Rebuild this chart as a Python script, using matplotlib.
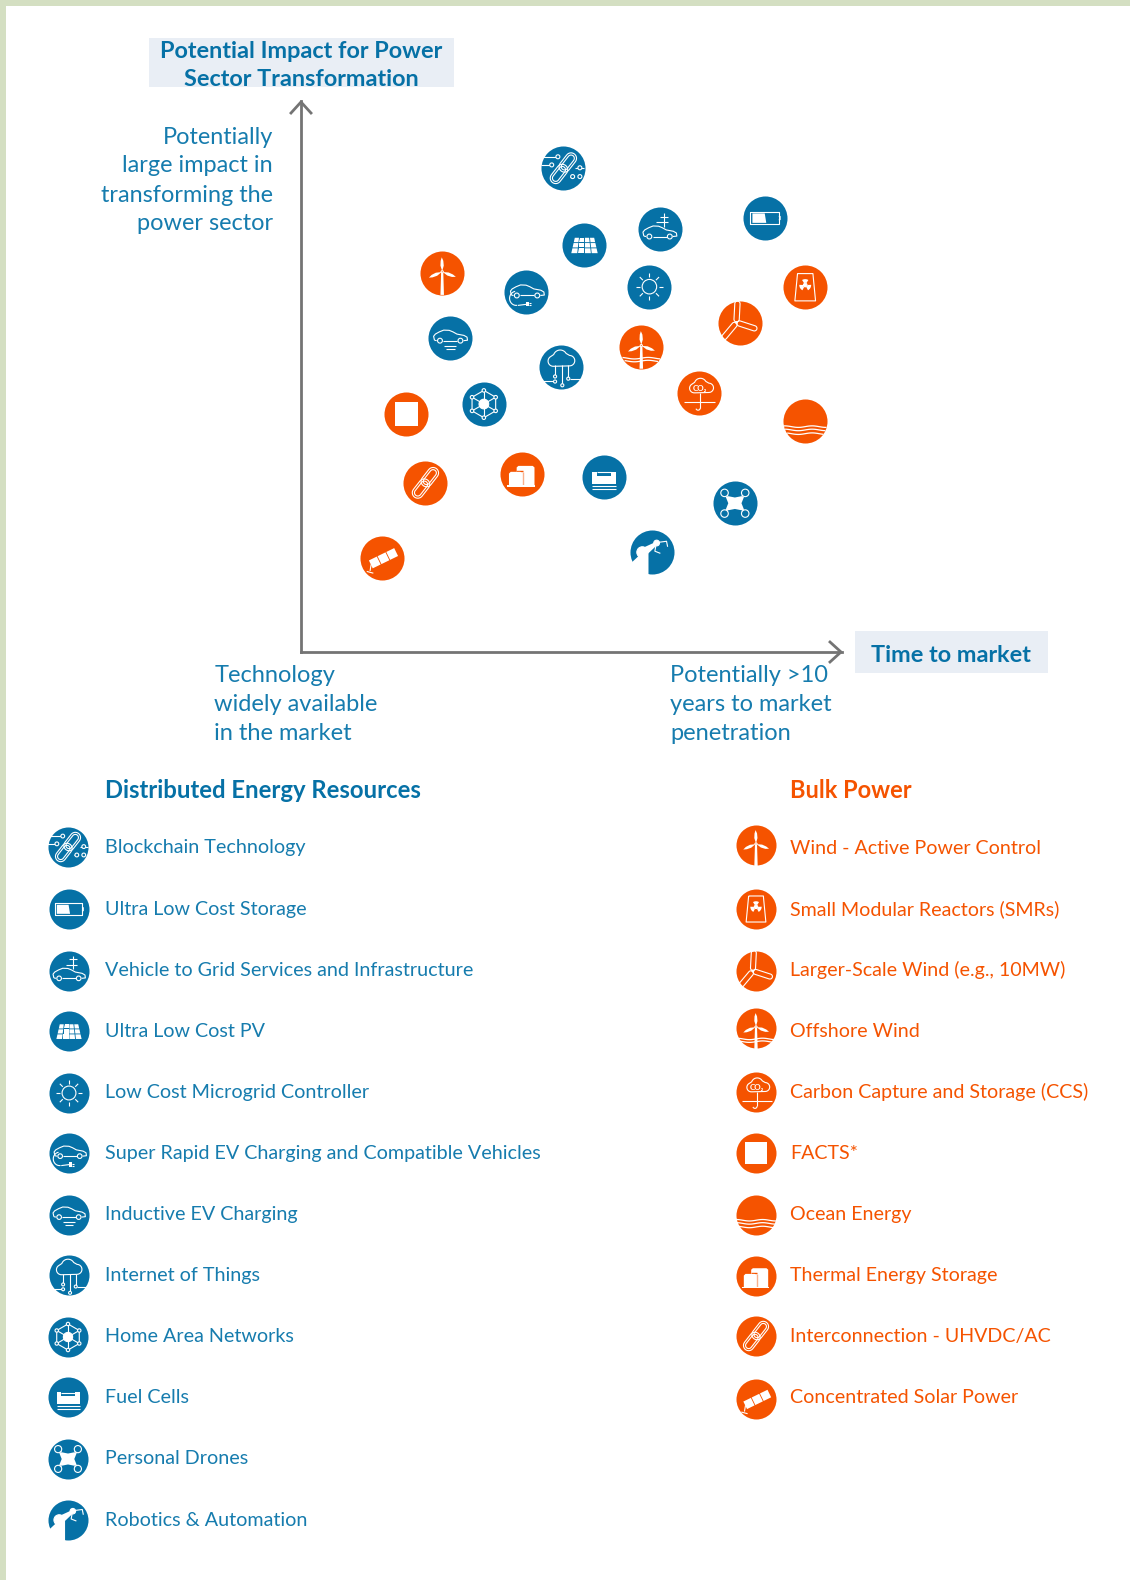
import numpy as np
import matplotlib
matplotlib.use('Agg')
import matplotlib.pyplot as plt
from matplotlib.patches import Rectangle, Polygon, Circle
from matplotlib.transforms import Affine2D

plt.rcParams['font.family'] = ['Lato', 'DejaVu Sans']

BLUE = '#0671A6'
ORANGE = '#F55300'
TEXT_BLUE = '#167CAE'
GREY = '#747474'
W, H = 1130, 1580

der_names = ['Blockchain Technology', 'Ultra Low Cost Storage', 'Vehicle to Grid Services and Infrastructure',
             'Ultra Low Cost PV', 'Low Cost Microgrid Controller', 'Super Rapid EV Charging and Compatible Vehicles',
             'Inductive EV Charging', 'Internet of Things', 'Home Area Networks', 'Fuel Cells',
             'Personal Drones', 'Robotics & Automation']
der_icons = ['blockchain', 'battery', 'v2g', 'pv', 'sun', 'ev', 'inductive', 'iot', 'han', 'fuel', 'drone', 'robot']
der_time = [48.5, 85.8, 66.3, 52.4, 64.4, 41.6, 27.6, 48.1, 33.8, 56.0, 80.2, 64.8]
der_impact = [87.8, 78.8, 76.8, 73.9, 66.3, 65.3, 56.9, 51.8, 45.0, 31.8, 27.0, 18.1]

bulk_names = ['Wind - Active Power Control', 'Small Modular Reactors (SMRs)', 'Larger-Scale Wind (e.g., 10MW)',
              'Offshore Wind', 'Carbon Capture and Storage (CCS)', 'FACTS*', 'Ocean Energy',
              'Thermal Energy Storage', 'Interconnection - UHVDC/AC', 'Concentrated Solar Power']
bulk_icons = ['wind', 'smr', 'blades', 'offshore', 'ccs', 'facts', 'ocean', 'thermal', 'chain', 'csp']
bulk_time = [26.1, 93.2, 81.1, 62.9, 73.6, 19.5, 93.2, 40.8, 23.0, 15.0]
bulk_impact = [68.8, 66.2, 59.8, 55.4, 47.0, 43.2, 41.9, 32.3, 30.7, 17.1]

y_labels = ['Potentially', 'large impact in', 'transforming the', 'power sector']
x_left_labels = ['Technology', 'widely available', 'in the market']
x_right_labels = ['Potentially >10', 'years to market', 'penetration']

fig = plt.figure(figsize=(W / 100, H / 100), dpi=100, facecolor='white')

chart = fig.add_axes([301 / W, (H - 652) / H, 541 / W, 551 / H])
chart.set_zorder(1)
chart.set_xlim(0, 100)
chart.set_ylim(0, 100)
chart.patch.set_alpha(0)
chart.set_xticks([])
chart.set_yticks([])
chart.spines[['top', 'right']].set_visible(False)
chart.spines[['left', 'bottom']].set_color(GREY)
chart.spines[['left', 'bottom']].set_linewidth(2)

# page layer in pixels, y downwards
page = fig.add_axes([0, 0, 1, 1])
page.set_zorder(2)
page.set_xlim(0, W)
page.set_ylim(H, 0)
page.axis('off')


class Icon:
    # everything in unit circle coordinates, y up
    def __init__(self, px, py, r, color):
        self.tr = Affine2D().scale(r).translate(px, H - py)
        self.color = color
        self.lw = 0.8

    def line(self, pts, lw=None, color='white', close=False):
        pts = np.array(pts, dtype=float)
        if close:
            pts = np.vstack([pts, pts[0]])
        page.plot(pts[:, 0], pts[:, 1], color=color, lw=lw or self.lw, transform=self.tr,
                  clip_on=False, solid_capstyle='butt', zorder=5)

    def fill(self, pts, color='white', z=5):
        page.add_patch(Polygon(pts, closed=True, fc=color, ec='none', transform=self.tr, zorder=z))

    def dot(self, x, y, r, filled=False, lw=None):
        fc = 'white' if filled else self.color
        page.add_patch(Circle((x, y), r, fc=fc, ec='white', lw=lw or self.lw, transform=self.tr, zorder=6))

    def rect(self, x0, y0, x1, y1, color='white'):
        self.fill([(x0, y0), (x1, y0), (x1, y1), (x0, y1)], color)


def capsule(cx, cy, length, width, angle):
    t = np.linspace(-np.pi / 2, np.pi / 2, 14)
    r = width / 2
    a = np.c_[length / 2 - r + r * np.cos(t), r * np.sin(t)]
    b = np.c_[-length / 2 + r - r * np.cos(t), -r * np.sin(t)]
    p = np.vstack([a, b, a[:1]])
    c, s = np.cos(np.radians(angle)), np.sin(np.radians(angle))
    return np.c_[cx + p[:, 0] * c - p[:, 1] * s, cy + p[:, 0] * s + p[:, 1] * c]


def chain(ic, scale=1.0):
    for dx, dy in [(0.2, 0.26), (-0.2, -0.26)]:
        ic.line(capsule(dx * scale, dy * scale, 0.98 * scale, 0.5 * scale, 52))
        ic.line(capsule(dx * scale, dy * scale, 0.78 * scale, 0.3 * scale, 52))


def car(ic, dx=0.0, dy=0.0, s=1.0):
    body = [(-.72, -.18), (-.76, .0), (-.68, .1), (-.5, .2), (-.3, .28), (-.05, .27), (.12, .2), (.3, .1),
            (.62, .04), (.76, -.04), (.78, -.18), (.6, -.2)]
    ic.line([(dx + x * s, dy + y * s) for x, y in body])
    ic.line([(dx + .32 * s, dy - .2 * s), (dx - .32 * s, dy - .2 * s)])
    ic.line([(dx - .72 * s, dy - .18 * s), (dx - .62 * s, dy - .2 * s)])
    ic.dot(dx - .47 * s, dy - .2 * s, .11 * s)
    ic.dot(dx + .46 * s, dy - .2 * s, .11 * s)


def cloud(ic, dx=0.0, dy=0.0, s=1.0):
    t = np.radians
    pts = []
    for cx, cy, r, a0, a1 in [(-.38, .0, .25, 270, 130), (-.05, .2, .33, 160, 30), (.4, .02, .25, 90, -90)]:
        for a in np.linspace(a0, a1, 12):
            pts.append((dx + (cx + r * np.cos(t(a))) * s, dy + (cy + r * np.sin(t(a))) * s))
    pts.append(pts[0])
    ic.line(pts)


def turbine(ic, dx=0.0, dy=0.0, bottom=-1.0):
    blade = np.array([(0, .03), (-.08, .28), (-.07, .5), (-.02, .66), (.05, .5), (.07, .28)])
    for ang in [0, 112, 248]:
        c, s = np.cos(np.radians(ang)), np.sin(np.radians(ang))
        ic.fill([(dx + x * c - y * s, dy + .05 + x * s + y * c) for x, y in blade])
    ic.fill([(dx - .05, dy), (dx + .05, dy), (dx + .08, bottom), (dx - .08, bottom)])
    ic.dot(dx, dy + .05, .05, filled=False)


def waves(ic, ys, half=0.9):
    x = np.linspace(-half, half, 30)
    for y in ys:
        xx = x * np.sqrt(max(1 - y ** 2, 0)) / half
        ic.line(np.c_[xx, y + .035 * np.sin(xx * 5)], lw=0.9)


def draw_icon(name, px, py, r, color):
    ic = Icon(px, py, r, color)
    if name == 'blockchain':
        chain(ic)
        for a, b, c, d in [(-1, .52, -.28, .52), (-1, .15, -.55, .15), (.55, .02, .95, .02), (.3, -.38, .42, -.38)]:
            ic.line([(a, b), (c, d)])
        for x, y in [(-.25, .52), (-.53, .15), (.75, .02), (.42, -.38), (.75, -.38)]:
            ic.dot(x, y, .09)
    elif name == 'battery':
        ic.line([(-.68, .28), (.62, .28), (.62, -.3), (-.68, -.3)], close=True)
        ic.fill([(-.58, .2), (-.02, .2), (.05, -.23), (-.58, -.23)])
        ic.line([(.62, .08), (.68, .06), (.68, -.08), (.62, -.1)])
    elif name == 'v2g':
        car(ic, dx=0, dy=-.15)
        ic.line([(.2, .1), (.2, .72)])
        ic.line([(.02, .55), (.36, .55)])
        ic.line([(-.15, .3), (.4, .3)])
    elif name == 'pv':
        rows = [(.32, .12), (.08, -.12), (-.16, -.38)]
        f = lambda y: .46 + (.32 - y) / .7 * .16
        for y1, y0 in rows:
            for i in range(4):
                ic.fill([(f(y1) * (-1 + i * .5) + .02, y1), (f(y1) * (-.5 + i * .5) - .02, y1),
                         (f(y0) * (-.5 + i * .5) - .02, y0), (f(y0) * (-1 + i * .5) + .02, y0)])
    elif name == 'sun':
        ic.dot(0, 0, .33)
        for a in np.radians(np.arange(0, 360, 45)):
            ic.line([(.42 * np.cos(a), .42 * np.sin(a)), (.62 * np.cos(a), .62 * np.sin(a))])
    elif name == 'ev':
        car(ic, dx=.05, dy=.05)
        t = np.linspace(np.pi * .55, np.pi * 1.55, 16)
        ic.line(np.c_[-.45 + .3 * np.cos(t), -.28 + .32 * np.sin(t)])
        ic.line([(-.37, -.6), (.02, -.55)])
        ic.fill([(.02, -.45), (.13, -.45), (.13, -.65), (.02, -.65)])
        ic.line([(.13, -.5), (.22, -.5)])
        ic.line([(.13, -.6), (.22, -.6)])
    elif name == 'inductive':
        car(ic, dx=0, dy=.1)
        ic.line([(-.28, -.35), (.28, -.35)])
        ic.line([(-.2, -.48), (.2, -.48)])
    elif name == 'iot':
        cloud(ic, dy=.25, s=.95)
        for x, y1 in [(-.28, -.45), (.05, -.85), (.32, -.55)]:
            ic.line([(x, .05), (x, y1)])
            ic.dot(x, y1, .07)
        ic.line([(-1, -.65), (-.35, -.65)])
        ic.dot(-.28, -.68, .07)
        ic.line([(.38, -.55), (.95, -.55)])
    elif name == 'han':
        hexa = [(.62 * np.sin(a), .62 * np.cos(a)) for a in np.radians(np.arange(0, 360, 60))]
        ic.line(hexa, close=True)
        for x, y in hexa:
            ic.line([(0, 0), (x, y)])
            ic.dot(x, y, .08)
        ic.dot(0, 0, .22, filled=True)
    elif name == 'fuel':
        ic.rect(-.54, .22, -.32, .05)
        ic.rect(.32, .22, .55, .05)
        ic.line([(-.32, .2), (.32, .2)])
        ic.rect(-.54, .03, .55, -.35)
        for y in [-.42, -.55]:
            ic.line([(-.54, y), (.55, y)])
    elif name == 'drone':
        ic.fill([(-.42, .3), (-.3, .32), (0, .26), (.3, .32), (.42, .3), (.3, 0), (.42, -.3), (.3, -.32),
                 (0, -.26), (-.3, -.32), (-.42, -.3), (-.3, 0)])
        for x in [-.47, .47]:
            for y in [-.47, .47]:
                ic.dot(x, y, .17)
                ic.line([(x * .7, y * .7), (x, y)], lw=1.4)
    elif name == 'robot':
        ic.fill([(-.44, -.03), (-1.05, -.6), (-1.05, -1.1), (-.14, -1.1), (-.14, -.05)], z=5)
        ic.dot(-.42, .0, .25, filled=True)
        ic.fill([(-.4, .2), (.15, .45), (.2, .28), (-.2, -.1)])
        ic.dot(.23, .42, .13, filled=True)
        ic.line([(.3, .45), (.68, .5), (.73, .25)])
        ic.line([(.2, .32), (.15, .05), (.4, -.05)])
    elif name == 'wind':
        turbine(ic)
    elif name == 'offshore':
        turbine(ic, dy=0)
        waves(ic, [-.52, -.65])
    elif name == 'smr':
        ic.line([(-.35, .62), (.35, .62), (.47, -.62), (-.47, -.62)], close=True)
        ic.dot(0, .1, .08, filled=True)
        for a in [90, 210, 330]:
            t = np.radians(np.linspace(a - 32, a + 32, 8))
            ic.fill(np.vstack([np.c_[.1 * np.cos(t), .1 + .1 * np.sin(t)], np.c_[.27 * np.cos(t[::-1]), .1 + .27 * np.sin(t[::-1])]]))
    elif name == 'blades':
        for ang in [87, 230, 342]:
            hx, hy = -.15 + .5 * np.cos(np.radians(ang)), .5 * np.sin(np.radians(ang))
            ic.line(capsule(hx, hy, .95, .24, ang))
        ic.dot(-.15, 0, .04, filled=True)
    elif name == 'ccs':
        cloud(ic, dx=.1, dy=.22, s=.85)
        page.text(.05, .21, 'CO₂', fontsize=5.8, fontweight='bold', color='white', ha='center', va='center',
                  transform=ic.tr, zorder=6)
        ic.line([(-.68, -.42), (.74, -.42)])
        t = np.linspace(0, -np.pi * .9, 10)
        ic.line([(.05, .0), (.05, -.68)])
        ic.line(np.c_[-.05 + .1 * np.cos(t), -.68 + .1 * np.sin(t)])
    elif name == 'facts':
        ic.rect(-.54, .54, .54, -.54)
    elif name == 'ocean':
        waves(ic, [-.25, -.4, -.57])
    elif name == 'thermal':
        ic.fill([(-.23, .3), (-.15, .37), (.5, .37), (.58, .3), (.58, -.55), (-.23, -.55)])
        ic.line([(-.25, .14), (.05, .14)], color=color, lw=1)
        ic.fill([(-.58, .02), (-.5, .1), (-.06, .1), (.03, .02), (.03, -.55), (-.58, -.55)])
        ic.line([(.07, .1), (.07, -.5)], color='#F9B08C', lw=1)
        ic.rect(-.68, -.5, .6, -.58)
    elif name == 'chain':
        chain(ic)
    elif name == 'csp':
        c, s = np.cos(np.radians(26)), np.sin(np.radians(26))
        for k in [-1, 0, 1]:
            x0, x1 = k * .44 - .2, k * .44 + .2
            ic.fill([(.06 + x * c - y * s, -.02 + x * s + y * c) for x, y in
                     [(x0, -.2), (x1, -.2), (x1, .2), (x0, .2)]])
        ic.line([(-.5, -.3), (-.55, -.6)])
        ic.line([(-.7, -.62), (-.4, -.7)])


# page frame
page.add_patch(Rectangle((0, 0), 6, H, fc='#D4DFC2', ec='none'))
page.add_patch(Rectangle((0, 0), W, 6, fc='#D4DFC2', ec='none'))

# titles of the axes
page.add_patch(Rectangle((149, 38), 305, 49, fc='#E9EEF5', ec='none'))
page.add_patch(Rectangle((855, 631), 192.5, 42, fc='#E9EEF5', ec='none'))
page.text(301.5, 51, 'Potential Impact for Power', fontsize=16.9, fontweight='bold', color=BLUE, ha='center', va='center')
page.text(301.5, 80, 'Sector Transformation', fontsize=16.9, fontweight='bold', color=BLUE, ha='center', va='center')
page.text(951, 655, 'Time to market', fontsize=16.9, fontweight='bold', color=BLUE, ha='center', va='center')

# arrow heads
page.plot([291, 301, 311], [113, 102, 113], color=GREY, lw=2, zorder=4)
page.plot([830, 841, 830], [642, 652, 662], color=GREY, lw=2, zorder=4)

for i, t in enumerate(y_labels):
    page.text(273, 137 + i * 29, t, fontsize=16.95, color=TEXT_BLUE, ha='right', va='center')
for i, t in enumerate(x_left_labels):
    page.text(214.5, 675.5 + i * 29, t, fontsize=17, color=TEXT_BLUE, ha='left', va='center')
for i, t in enumerate(x_right_labels):
    page.text(670, 675.5 + i * 29, t, fontsize=17, color=TEXT_BLUE, ha='left', va='center')

# bubbles on the chart
chart.scatter(der_time, der_impact, s=1005, color=BLUE, linewidths=0, clip_on=False, zorder=3)
chart.scatter(bulk_time, bulk_impact, s=1005, color=ORANGE, linewidths=0, clip_on=False, zorder=3)
for names, xs, ys, col in [(der_icons, der_time, der_impact, BLUE), (bulk_icons, bulk_time, bulk_impact, ORANGE)]:
    for name, x, y in zip(names, xs, ys):
        px = 301 + x / 100 * 541
        py = 652 - y / 100 * 551
        draw_icon(name, px, py, 22, col)

# legends
page.text(105, 790.5, 'Distributed Energy Resources', fontsize=17.2, fontweight='bold', color=BLUE, va='center')
page.text(790.5, 790.5, 'Bulk Power', fontsize=17, fontweight='bold', color=ORANGE, va='center')

text_y = 848 + np.arange(12) * 61.1
der_icon_y = [847, 909, 971, 1031, 1093, 1153, 1215, 1275, 1337, 1397, 1459, 1520]
der_icon_x = [68, 69, 69, 69, 69, 69, 69, 69, 68, 68, 68, 68]
page.scatter(der_icon_x, der_icon_y, s=830, color=BLUE, linewidths=0, zorder=3)
for name, label, x, y, ty in zip(der_icons, der_names, der_icon_x, der_icon_y, text_y):
    draw_icon(name, x, y, 21, BLUE)
    page.text(105, ty, label, fontsize=14.2, color=TEXT_BLUE, va='center')

bulk_icon_y = [845, 909, 971, 1028, 1092, 1153, 1215, 1276, 1336, 1399]
page.scatter([756] * 10, bulk_icon_y, s=830, color=ORANGE, linewidths=0, zorder=3)
for name, label, y, ty in zip(bulk_icons, bulk_names, bulk_icon_y, text_y):
    draw_icon(name, 756, y, 21, ORANGE)
    page.text(790.5, ty, label, fontsize=14.1, color=ORANGE, va='center')

page.set_xlim(0, W)
page.set_ylim(H, 0)
fig.savefig('out.png', dpi=100)
